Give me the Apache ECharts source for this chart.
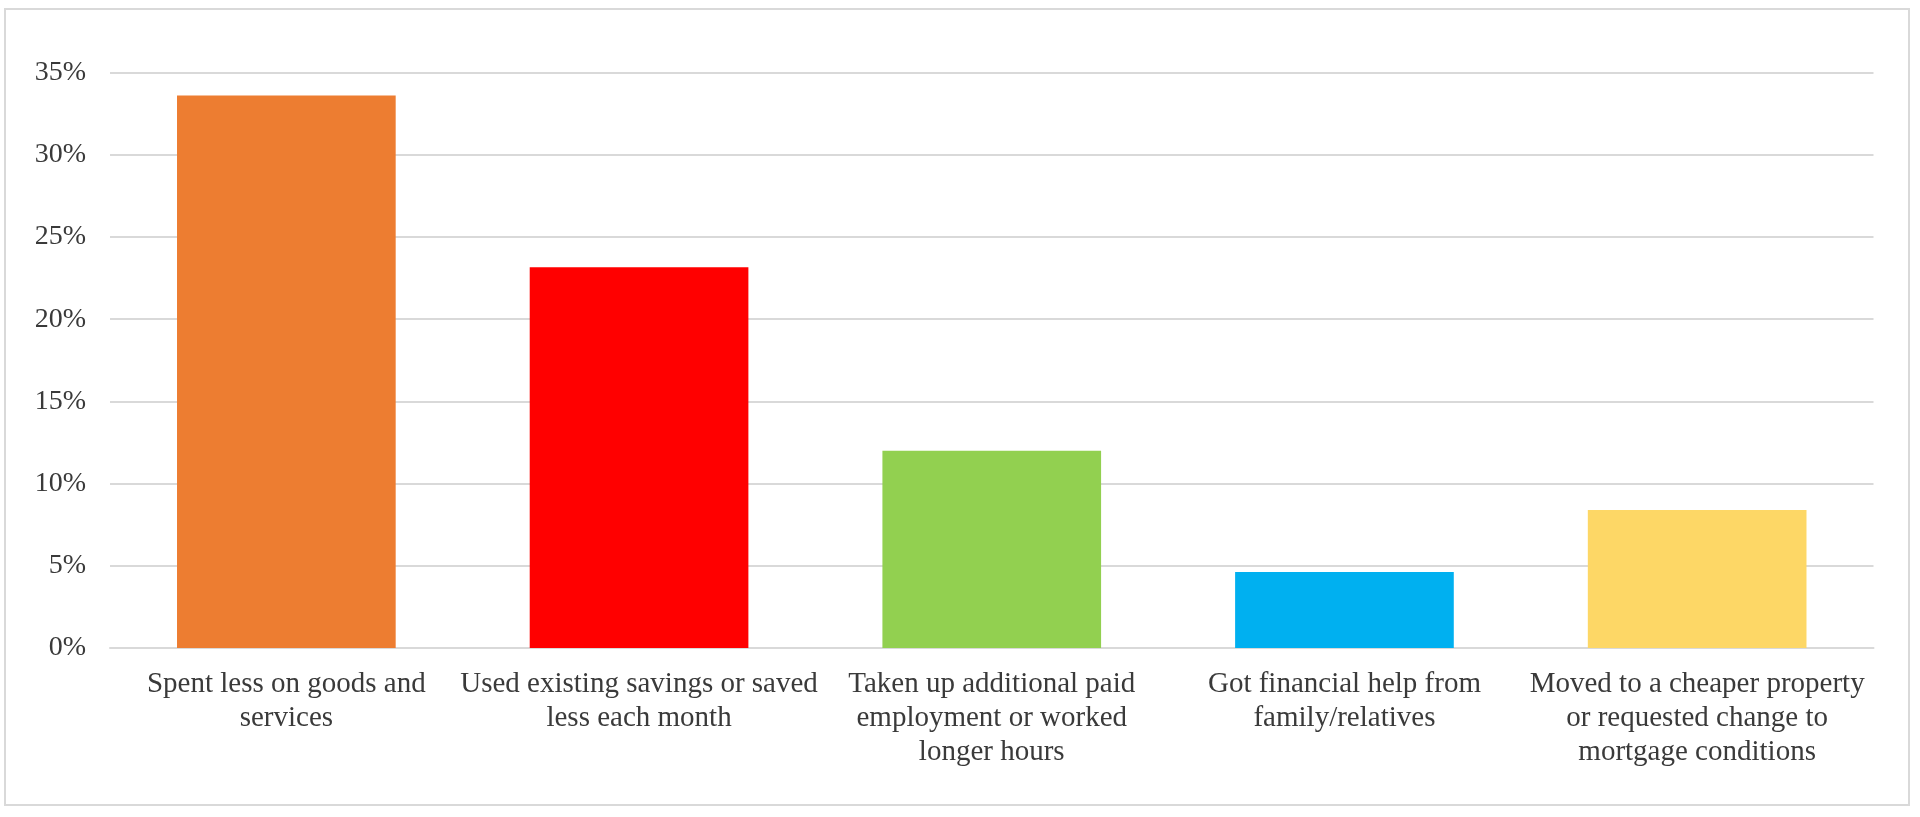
<!DOCTYPE html>
<html>
<head>
<meta charset="utf-8">
<script src="https://cdn.jsdelivr.net/npm/echarts@6/dist/echarts.min.js"></script>
<style>
html,body{margin:0;padding:0;background:#fff;}
#chart{width:1920px;height:817px;}
</style>
</head>
<body>
<div id="chart"></div>
<script>
const categories = [
  'Spent less on goods and\nservices',
  'Used existing savings or saved\nless each month',
  'Taken up additional paid\nemployment or worked\nlonger hours',
  'Got financial help from\nfamily/relatives',
  'Moved to a cheaper property\nor requested change to\nmortgage conditions'
];
const values = [33.6, 23.15, 12.0, 4.62, 8.4];
const barColors = ['#ED7D31', '#FF0000', '#92D050', '#00B0F0', '#FDD766'];
const yTicks = [0, 5, 10, 15, 20, 25, 30, 35];

const chart = echarts.init(document.getElementById('chart'), null, {renderer: 'canvas'});
chart.setOption({
  animation: false,
  backgroundColor: '#ffffff',
  graphic: [{
    type: 'rect',
    shape: {x: 5, y: 9, width: 1904, height: 796},
    style: {fill: 'none', stroke: '#D9D9D9', lineWidth: 2},
    silent: true
  }],
  grid: {left: 110, right: 46.5, top: 72.5, bottom: 169, containLabel: false},
  xAxis: {
    type: 'category',
    data: categories,
    axisTick: {show: false},
    axisLine: {show: true, lineStyle: {color: '#D9D9D9', width: 2}},
    axisLabel: {
      interval: 0,
      margin: 19,
      fontFamily: 'Liberation Serif',
      fontSize: 29,
      lineHeight: 34,
      color: '#3a3a3a',
      align: 'center'
    }
  },
  yAxis: {
    type: 'value',
    min: yTicks[0],
    max: yTicks[yTicks.length - 1],
    interval: 5,
    axisLine: {show: false},
    axisTick: {show: false},
    splitLine: {show: true, lineStyle: {color: '#D9D9D9', width: 2}},
    axisLabel: {
      margin: 24,
      fontFamily: 'Liberation Serif',
      fontSize: 28,
      color: '#3a3a3a',
      formatter: v => v + '%'
    }
  },
  series: [{
    type: 'bar',
    barCategoryGap: '38%',
    data: values.map((v, i) => ({value: v, itemStyle: {color: barColors[i]}}))
  }]
});
</script>
</body>
</html>
